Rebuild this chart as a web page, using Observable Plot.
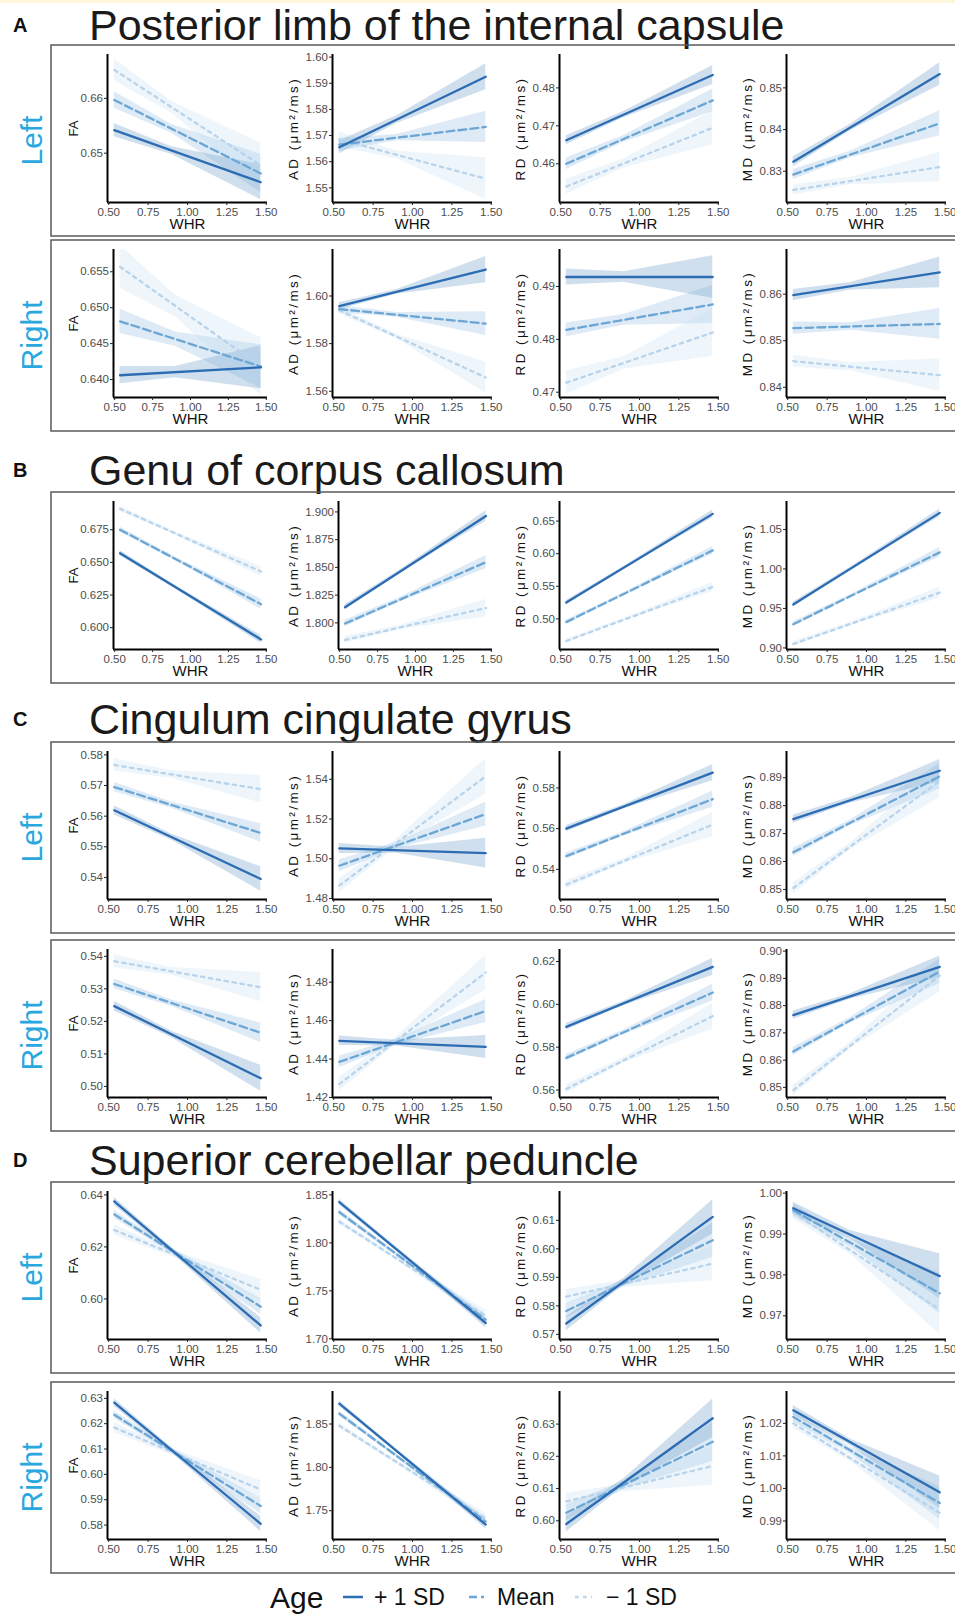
<!DOCTYPE html>
<html><head><meta charset="utf-8">
<script src="https://cdn.jsdelivr.net/npm/d3@7"></script>
<script src="https://cdn.jsdelivr.net/npm/@observablehq/plot@0.6"></script>
<style>
body{margin:0;background:#fff;}
#fig{position:relative;width:955px;height:1616px;overflow:hidden;font-family:"Liberation Sans",Arial,Helvetica,sans-serif;}
.cell{position:absolute;}
</style></head><body><div id="fig"></div>
<script>
// ---------------- DATA ----------------
const AGES = ["+ 1 SD", "Mean", "\u2212 1 SD"];
const MEASURES = ["FA", "AD (\u03bcm\u00b2/ms)", "RD (\u03bcm\u00b2/ms)", "MD (\u03bcm\u00b2/ms)"];
const X_TICKS = ["0.50", "0.75", "1.00", "1.25", "1.50"];
const X_DOMAIN = [0.492, 1.508];
// WHR at which fitted values / CI half-widths were read: start, middle, end
const X_FIT = [0.535, 0.9, 1.465];
const SECTIONS = [["A", "Posterior limb of the internal capsule"], ["B", "Genu of corpus callosum"], ["C", "Cingulum cingulate gyrus"], ["D", "Superior cerebellar peduncle"]];
const ROW_SIDE = ["Left", "Right", null, "Left", "Right", "Left", "Right"];
// each panel: y range, tick labels, fit per age group [y at start, y at end, CI half-width start, middle, end]
const plicLeft = [
  {dom:[0.641,0.668], ticks:["0.65","0.66"], fit:[[0.6542,0.6447,0.0012,0.0007,0.0032],[0.6597,0.6463,0.0015,0.0008,0.0035],[0.6652,0.6478,0.002,0.0011,0.004]]},
  {dom:[1.5444,1.601], ticks:["1.55","1.56","1.57","1.58","1.59","1.60"], fit:[[1.5655,1.5925,0.0025,0.0015,0.005],[1.5665,1.5733,0.0025,0.0012,0.006],[1.5685,1.5535,0.003,0.0015,0.008]]},
  {dom:[0.4498,0.4888], ticks:["0.46","0.47","0.48"], fit:[[0.4662,0.4834,0.0012,0.0008,0.0025],[0.4600,0.4767,0.0015,0.0009,0.003],[0.4540,0.4695,0.002,0.0012,0.0045]]},
  {dom:[0.8225,0.858], ticks:["0.83","0.84","0.85"], fit:[[0.8323,0.8533,0.0012,0.0008,0.0027],[0.8292,0.8415,0.0012,0.0008,0.003],[0.8255,0.8310,0.0012,0.0009,0.0035]]}
];
const plicRight = [
  {dom:[0.6375,0.6581], ticks:["0.640","0.645","0.650","0.655"], fit:[[0.6406,0.6417,0.0012,0.0008,0.003],[0.6481,0.6418,0.0017,0.001,0.003],[0.6557,0.6418,0.003,0.0015,0.004]]},
  {dom:[1.5574,1.6195], ticks:["1.56","1.58","1.60"], fit:[[1.5957,1.6111,0.0015,0.001,0.0055],[1.5945,1.5884,0.0015,0.001,0.005],[1.5940,1.5658,0.0015,0.001,0.0065]]},
  {dom:[0.469,0.497], ticks:["0.47","0.48","0.49"], fit:[[0.4918,0.4918,0.0015,0.001,0.004],[0.4818,0.4866,0.0013,0.001,0.0036],[0.4718,0.4813,0.0022,0.0012,0.0045]]},
  {dom:[0.8378,0.8696], ticks:["0.84","0.85","0.86"], fit:[[0.8598,0.8647,0.0012,0.0008,0.0033],[0.8527,0.8536,0.0013,0.0008,0.0033],[0.8456,0.8426,0.0013,0.0009,0.0035]]}
];
const genu = [
  {dom:[0.5833,0.6966], ticks:["0.600","0.625","0.650","0.675"], fit:[[0.657,0.591,0.002,0.0012,0.003],[0.675,0.618,0.002,0.0012,0.004],[0.691,0.643,0.002,0.0012,0.004]]},
  {dom:[1.776,1.9094], ticks:["1.800","1.825","1.850","1.875","1.900"], fit:[[1.8141,1.8963,0.0025,0.0015,0.0047],[1.7994,1.8547,0.003,0.002,0.006],[1.7847,1.8134,0.003,0.002,0.008]]},
  {dom:[0.453,0.68], ticks:["0.50","0.55","0.60","0.65"], fit:[[0.525,0.661,0.003,0.002,0.006],[0.495,0.605,0.003,0.002,0.006],[0.466,0.549,0.003,0.002,0.007]]},
  {dom:[0.898,1.0854], ticks:["0.90","0.95","1.00","1.05"], fit:[[0.955,1.071,0.003,0.002,0.005],[0.930,1.021,0.003,0.002,0.006],[0.905,0.970,0.003,0.002,0.007]]}
];
const cingLeft = [
  {dom:[0.5328,0.5811], ticks:["0.54","0.55","0.56","0.57","0.58"], fit:[[0.5619,0.5395,0.0015,0.001,0.004],[0.5695,0.5545,0.0015,0.001,0.003],[0.5767,0.5688,0.002,0.0012,0.0045]]},
  {dom:[1.4795,1.554], ticks:["1.48","1.50","1.52","1.54"], fit:[[1.5052,1.5028,0.0025,0.0015,0.0075],[1.4965,1.5225,0.003,0.0015,0.006],[1.4865,1.5415,0.0035,0.002,0.009]]},
  {dom:[0.5252,0.5979], ticks:["0.54","0.56","0.58"], fit:[[0.560,0.5875,0.0015,0.001,0.004],[0.5465,0.5745,0.0015,0.001,0.004],[0.5325,0.5620,0.002,0.0012,0.006]]},
  {dom:[0.8464,0.8994], ticks:["0.85","0.86","0.87","0.88","0.89"], fit:[[0.8752,0.8925,0.0015,0.001,0.004],[0.8633,0.8905,0.0015,0.001,0.0045],[0.8505,0.8888,0.002,0.0012,0.006]]}
];
const cingRight = [
  {dom:[0.4966,0.5421], ticks:["0.50","0.51","0.52","0.53","0.54"], fit:[[0.5247,0.5025,0.0015,0.001,0.004],[0.5315,0.5165,0.0015,0.001,0.003],[0.5385,0.5305,0.002,0.0012,0.0045]]},
  {dom:[1.42,1.497], ticks:["1.42","1.44","1.46","1.48"], fit:[[1.4495,1.4463,0.0025,0.0015,0.006],[1.4385,1.4650,0.003,0.0015,0.006],[1.4270,1.4850,0.0035,0.002,0.009]]},
  {dom:[0.5565,0.6256], ticks:["0.56","0.58","0.60","0.62"], fit:[[0.5895,0.6175,0.0015,0.001,0.004],[0.5750,0.6055,0.0015,0.001,0.004],[0.5605,0.5945,0.002,0.0012,0.006]]},
  {dom:[0.8463,0.9006], ticks:["0.85","0.86","0.87","0.88","0.89","0.90"], fit:[[0.8765,0.8942,0.0015,0.001,0.004],[0.8632,0.8925,0.0015,0.001,0.0045],[0.8490,0.8910,0.002,0.0012,0.006]]}
];
const scpLeft = [
  {dom:[0.5844,0.6413], ticks:["0.60","0.62","0.64"], fit:[[0.6375,0.5898,0.0015,0.001,0.003],[0.6325,0.5970,0.0015,0.001,0.003],[0.6265,0.6035,0.002,0.0012,0.004]]},
  {dom:[1.6993,1.8535], ticks:["1.70","1.75","1.80","1.85"], fit:[[1.8425,1.7165,0.003,0.002,0.005],[1.8320,1.7200,0.003,0.002,0.005],[1.8220,1.7240,0.003,0.002,0.006]]},
  {dom:[0.5682,0.6201], ticks:["0.57","0.58","0.59","0.60","0.61"], fit:[[0.5738,0.6112,0.0025,0.0012,0.006],[0.5782,0.6030,0.0025,0.0012,0.006],[0.5832,0.5948,0.0025,0.0012,0.006]]},
  {dom:[0.9642,1.0004], ticks:["0.97","0.98","0.99","1.00"], fit:[[0.9963,0.9797,0.0015,0.001,0.0055],[0.9958,0.9755,0.0015,0.001,0.005],[0.9953,0.9715,0.0015,0.001,0.006]]}
];
const scpRight = [
  {dom:[0.5743,0.6327], ticks:["0.58","0.59","0.60","0.61","0.62","0.63"], fit:[[0.6283,0.5805,0.0015,0.001,0.003],[0.6235,0.5875,0.0015,0.001,0.003],[0.6185,0.5940,0.002,0.0012,0.0035]]},
  {dom:[1.7168,1.8875], ticks:["1.75","1.80","1.85"], fit:[[1.8735,1.7340,0.003,0.002,0.005],[1.8620,1.7375,0.003,0.002,0.005],[1.8480,1.7410,0.003,0.002,0.006]]},
  {dom:[0.5942,0.6401], ticks:["0.60","0.61","0.62","0.63"], fit:[[0.5990,0.6318,0.0025,0.0012,0.006],[0.6025,0.6245,0.0025,0.0012,0.006],[0.6060,0.6170,0.0025,0.0012,0.006]]},
  {dom:[0.9843,1.0298], ticks:["0.99","1.00","1.01","1.02"], fit:[[1.0240,0.9988,0.0015,0.001,0.005],[1.0220,0.9955,0.0015,0.001,0.005],[1.0200,0.9925,0.0015,0.001,0.0055]]}
];
const ROWS = [plicLeft, plicRight, genu, cingLeft, cingRight, scpLeft, scpRight];

// ---------------- STYLE / LAYOUT ----------------
const COLORS = ["#2b6cb3", "#6ba6d5", "#b8d4ec"];
const DASH = ["none", "8,4", "3.5,4.5"];
const BOX_TOPS = [45, 240, 492, 742, 940, 1182, 1382];
const BOX_H = 191;
const SECTION_BASE = [40, 485, 734, 1175];
const COL_LEFT = [47, 272, 499, 726];
const FONT = '"Liberation Sans", Arial, Helvetica, sans-serif';

const fig = document.getElementById("fig");
const NS = "http://www.w3.org/2000/svg";
const ov = document.createElementNS(NS, "svg");
ov.setAttribute("width", 955); ov.setAttribute("height", 1616);
ov.style.position = "absolute"; ov.style.left = "0"; ov.style.top = "0";
ov.style.fontFamily = FONT;
fig.appendChild(ov);
function el(tag, attrs, txt) {
  const e = document.createElementNS(NS, tag);
  for (const k in attrs) e.setAttribute(k, attrs[k]);
  if (txt != null) e.textContent = txt;
  ov.appendChild(e);
  return e;
}
el("rect", {x:0, y:0, width:955, height:3, fill:"#fdf5dc"});
// section titles
SECTIONS.forEach(([letter, title], i) => {
  el("text", {x:13, y:SECTION_BASE[i] - 8, "font-size":20, "font-weight":"bold", fill:"#111"}, letter);
  el("text", {x:89, y:SECTION_BASE[i], "font-size":43, fill:"#1a1a1a"}, title);
});
// row boxes and side labels
BOX_TOPS.forEach((t, r) => {
  el("rect", {x:51, y:t, width:915, height:BOX_H, fill:"none", stroke:"#5a5a5a", "stroke-width":1.5});
  if (ROW_SIDE[r]) {
    el("text", {transform:`translate(31,${t + BOX_H/2}) rotate(-90)`, "text-anchor":"middle", "dominant-baseline":"central", "font-size":30, fill:"#29a8df"}, ROW_SIDE[r]);
  }
});
// legend
el("text", {x:270, y:1608, "font-size":30, fill:"#111"}, "Age");
const LEG = [[343, 363, 374], [469, 484, 497], [575, 592, 606]];
LEG.forEach(([a, b, tx], g) => {
  el("line", {x1:a, x2:b, y1:1597, y2:1597, stroke:COLORS[g], "stroke-width":2.5, "stroke-dasharray":DASH[g]});
  el("text", {x:tx, y:1605, "font-size":23, fill:"#111"}, AGES[g]);
});

function drawPanel(spec, mi, left, top) {
  const nchar = d3.max(spec.ticks, s => s.length);
  const extra = (nchar - 4) * 6;
  const W = 230, H = BOX_H;
  const yTicks = spec.ticks.map(Number);
  const fmt = new Map(yTicks.map((v, i) => [v, spec.ticks[i]]));
  const bands = [], lines = [];
  spec.fit.forEach(([y0, y1, w0, wm, w1], g) => {
    const ym = y0 + (y1 - y0) * (X_FIT[1] - X_FIT[0]) / (X_FIT[2] - X_FIT[0]);
    const c = [y0, ym, y1], w = [w0, wm, w1];
    X_FIT.forEach((x, k) => bands.push({g, x, lo: c[k] - w[k], hi: c[k] + w[k]}));
    lines.push({g, x: X_FIT[0], y: y0}, {g, x: X_FIT[2], y: y1});
  });
  const marks = [];
  for (let g = 0; g < 3; g++)
    marks.push(Plot.areaY(bands.filter(d => d.g === g), {x: "x", y1: "lo", y2: "hi", fill: COLORS[g], fillOpacity: 0.22, clip: true}));
  for (let g = 2; g >= 0; g--)
    marks.push(Plot.line(lines.filter(d => d.g === g), {x: "x", y: "y", stroke: COLORS[g], strokeWidth: 2.3, strokeDasharray: DASH[g]}));
  marks.push(
    Plot.ruleX([X_DOMAIN[0]], {stroke: "#000", strokeWidth: 2}),
    Plot.ruleY([spec.dom[0]], {stroke: "#000", strokeWidth: 2}),
    Plot.axisX(X_TICKS.map(Number), {tickSize: 3, tickPadding: 2, label: null, fill: "#4d4d4d", stroke: "#222", tickFormat: d => d.toFixed(2)}),
    Plot.axisY(yTicks, {tickSize: 3, tickPadding: 1.5, label: null, fill: "#4d4d4d", stroke: "#222", tickFormat: d => fmt.get(d)}),
    Plot.text(["WHR"], {text: d => d, frameAnchor: "bottom", textAnchor: "middle", dy: 26, fontSize: 15, fill: "#111"}),
    Plot.text([MEASURES[mi]], {text: d => d, frameAnchor: "left", textAnchor: "middle", dx: -(mi === 0 ? 34 : 39) - extra, rotate: -90, fontSize: mi === 0 ? 13 : 13.5, fill: "#111"})
  );
  const svg = Plot.plot({
    width: W, height: H,
    marginLeft: 60 + extra, marginRight: 10, marginTop: 9, marginBottom: 34,
    x: {domain: X_DOMAIN},
    y: {domain: spec.dom},
    style: {fontFamily: FONT, fontSize: "11.5px", background: "transparent", overflow: "visible"},
    marks
  });
  if (mi > 0) {
    const t = [...svg.querySelectorAll("text")].find(e => e.textContent === MEASURES[mi]);
    if (t) { t.setAttribute("letter-spacing", "2.4"); t.style.letterSpacing = "2.4px"; }
  }
  const div = document.createElement("div");
  div.className = "cell";
  div.style.left = left + "px"; div.style.top = top + "px"; div.style.width = W + "px";
  div.appendChild(svg);
  fig.appendChild(div);
}

ROWS.forEach((row, r) => row.forEach((spec, mi) => drawPanel(spec, mi, COL_LEFT[mi], BOX_TOPS[r])));
</script></body></html>
